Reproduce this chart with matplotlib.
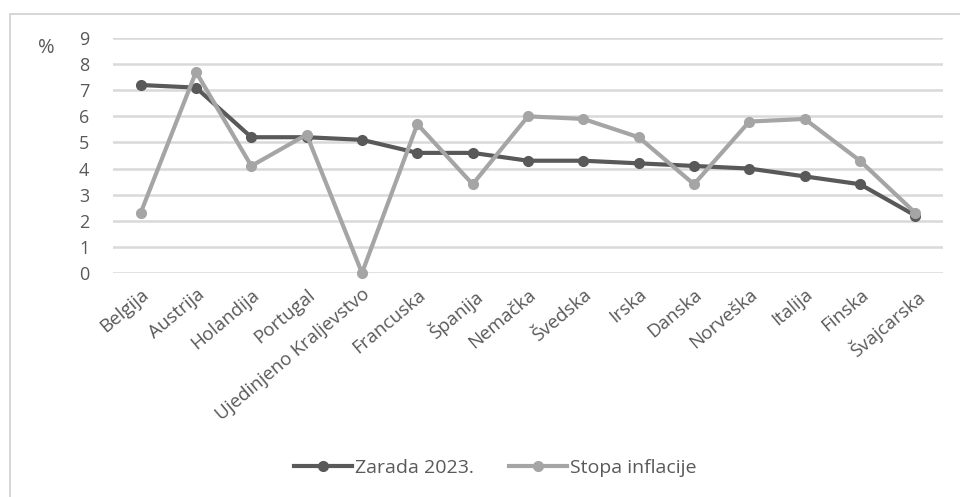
import matplotlib.pyplot as plt
from matplotlib.patches import Rectangle

countries = ['Belgija', 'Austrija', 'Holandija', 'Portugal', 'Ujedinjeno Kraljevstvo',
             'Francuska', 'Španija', 'Nemačka', 'Švedska', 'Irska', 'Danska',
             'Norveška', 'Italija', 'Finska', 'Švajcarska']
zarada = [7.2, 7.1, 5.2, 5.2, 5.1, 4.6, 4.6, 4.3, 4.3, 4.2, 4.1, 4.0, 3.7, 3.4, 2.2]
inflacija = [2.3, 7.7, 4.1, 5.3, 0.0, 5.7, 3.4, 6.0, 5.9, 5.2, 3.4, 5.8, 5.9, 4.3, 2.3]

plt.rcParams['font.family'] = ['Open Sans', 'DejaVu Sans']
text_col = '#595959'

fig = plt.figure(figsize=(9.6, 4.97), dpi=100)
ax = fig.add_axes([113 / 960, 1 - 273 / 497, 830 / 960, 235 / 497])

x = range(len(countries))
ax.plot(x, zarada, color='#595959', lw=3, marker='o', ms=7,
        label='Zarada 2023.', clip_on=False, zorder=3)
ax.plot(x, inflacija, color='#a5a5a5', lw=3, marker='o', ms=7,
        label='Stopa inflacije', clip_on=False, zorder=4)

ax.set_xlim(-0.5, len(countries) - 0.5)
ax.set_ylim(0, 9)
ax.set_yticks(range(10))
ax.yaxis.grid(True, color='#d9d9d9', lw=1.8)
ax.set_axisbelow(True)
for s in ax.spines.values():
    s.set_visible(False)
ax.tick_params(length=0, colors=text_col)
ax.tick_params(axis='y', pad=17, labelsize=13)
ax.set_xticks(list(x))
ax.set_xticklabels(countries, rotation=40, ha='right', rotation_mode='anchor',
                   fontsize=13.5)
ax.tick_params(axis='x', pad=9)

fig.text(46 / 960, 1 - 48 / 497, '%', color=text_col, fontsize=14.5,
         ha='center', va='center')

leg = fig.legend(loc='center', bbox_to_anchor=(495 / 960, 1 - 468 / 497), ncol=2,
                 frameon=False, fontsize=14, handlelength=3.0, handletextpad=0.15,
                 columnspacing=1.8)
for t in leg.get_texts():
    t.set_color(text_col)

fig.patches.append(Rectangle((10 / 960, -0.1), 1.1, 1 - 14 / 497 + 0.1,
                             transform=fig.transFigure, fill=False,
                             ec='#d0d0d0', lw=1.2))

fig.savefig('out.png', dpi=100)
